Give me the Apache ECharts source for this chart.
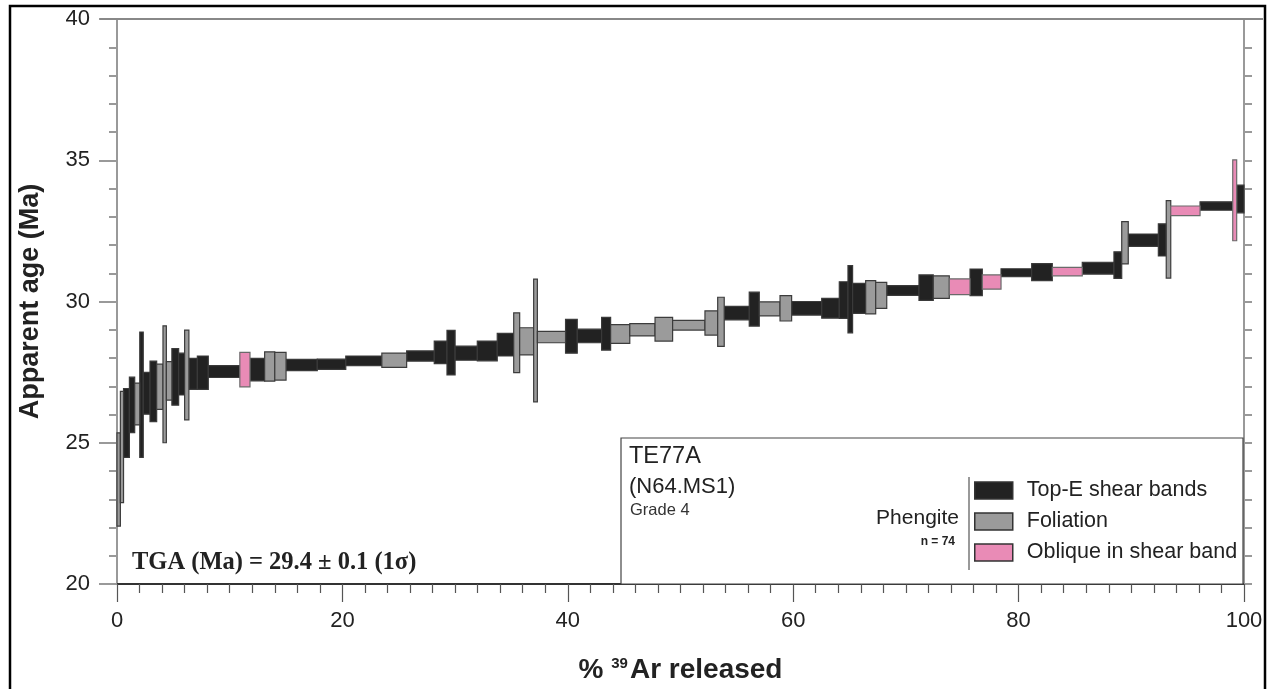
<!DOCTYPE html>
<html>
<head>
<meta charset="utf-8">
<script src="https://cdn.jsdelivr.net/npm/echarts@6/dist/echarts.min.js"></script>
<style>
html,body{margin:0;padding:0;background:#fff;}
#chart{width:1275px;height:689px;}
</style>
</head>
<body>
<div id="chart"></div>
<script>
// Cumulative % 39Ar released at the end of each heating step (start = previous end)
const stepEnd = [0.3, 0.58, 1.1, 1.57, 2.02, 2.33, 2.93, 3.52, 4.08, 4.38,
  4.87, 5.47, 6.0, 6.38, 7.13, 8.1, 10.9, 11.8, 13.1, 14.0,
  15.0, 17.77, 20.3, 23.5, 25.7, 28.15, 29.28, 30.0, 31.97, 33.74,
  35.2, 35.73, 36.97, 37.3, 39.8, 40.84, 43.0, 43.8, 45.5, 47.74,
  49.3, 52.17, 53.3, 53.88, 56.1, 56.99, 58.83, 59.86, 62.53, 64.09,
  64.86, 65.27, 66.43, 67.32, 68.3, 71.16, 72.43, 73.85, 75.69, 76.78,
  78.44, 81.16, 82.99, 85.65, 88.46, 89.15, 89.73, 92.4, 93.1, 93.5,
  96.1, 99.0, 99.35, 100];
// Apparent age (Ma)
const stepAge = [23.7, 24.85, 25.7, 26.34, 26.37, 26.7, 26.75, 26.82, 26.98, 27.07,
  27.19, 27.33, 27.43, 27.4, 27.44, 27.48, 27.52, 27.59, 27.59, 27.7,
  27.71, 27.75, 27.78, 27.9, 27.92, 28.07, 28.2, 28.19, 28.17, 28.25,
  28.47, 28.54, 28.59, 28.62, 28.74, 28.77, 28.78, 28.86, 28.85, 29.0,
  29.02, 29.16, 29.24, 29.28, 29.59, 29.73, 29.74, 29.76, 29.76, 29.76,
  30.05, 30.08, 30.11, 30.15, 30.22, 30.39, 30.49, 30.51, 30.52, 30.68,
  30.69, 31.02, 31.04, 31.06, 31.18, 31.29, 32.08, 32.17, 32.18, 32.2,
  33.21, 33.38, 33.58, 33.63];
// Age error (half-height of step box, Ma)
const stepErr = [1.65, 1.97, 1.22, 0.98, 0.74, 2.22, 0.74, 1.07, 0.8, 2.07,
  0.68, 1.0, 0.74, 1.59, 0.55, 0.59, 0.21, 0.61, 0.4, 0.52,
  0.49, 0.2, 0.18, 0.17, 0.25, 0.18, 0.4, 0.79, 0.25, 0.35,
  0.4, 1.06, 0.48, 2.17, 0.2, 0.6, 0.24, 0.58, 0.33, 0.22,
  0.42, 0.17, 0.43, 0.87, 0.24, 0.6, 0.25, 0.45, 0.24, 0.35,
  0.65, 1.19, 0.53, 0.59, 0.46, 0.17, 0.45, 0.4, 0.28, 0.47,
  0.25, 0.14, 0.3, 0.15, 0.21, 0.47, 0.75, 0.22, 0.57, 1.37,
  0.17, 0.15, 1.43, 0.49];
// Microstructural group: T = Top-E shear bands, F = Foliation, O = Oblique in shear band
const stepGroup = ['F','F','T','T','F','T','T','T','F','F',
  'F','T','T','F','T','T','T','O','T','F',
  'F','T','T','T','F','T','T','T','T','T',
  'T','F','F','F','F','T','T','T','F','F',
  'F','F','F','F','T','T','F','F','T','T',
  'T','T','T','F','F','T','T','F','O','T',
  'O','T','T','O','T','T','F','T','T','F',
  'O','T','O','T'];
const groupNames = {T: 'Top-E shear bands', F: 'Foliation', O: 'Oblique in shear band'};
const groupOrder = ['T', 'F', 'O'];
const xTicks = [0, 20, 40, 60, 80, 100];
const yTicks = [20, 25, 30, 35, 40];

const groupStyle = {
  T: {fill: '#222222', stroke: '#3a3a3a'},
  F: {fill: '#9b9b9b', stroke: '#3c3c3c'},
  O: {fill: '#e98bb6', stroke: '#6a6a6a'}
};
const FONT = '"Liberation Sans", Arial, sans-serif';

function buildData(g) {
  const out = [];
  for (let i = 0; i < stepEnd.length; i++) {
    if (stepGroup[i] !== g) continue;
    const x0 = i === 0 ? 0 : stepEnd[i - 1];
    out.push([x0, stepEnd[i], stepAge[i], stepErr[i]]);
  }
  return out;
}

function makeRender(g) {
  return function (params, api) {
    const x0 = api.value(0), x1 = api.value(1), a = api.value(2), e = api.value(3);
    const p0 = api.coord([x0, a + e]);
    const p1 = api.coord([x1, a - e]);
    return {
      type: 'rect',
      shape: {x: p0[0], y: p0[1], width: p1[0] - p0[0], height: p1[1] - p0[1]},
      style: {fill: groupStyle[g].fill, stroke: groupStyle[g].stroke, lineWidth: 1.2}
    };
  };
}

const series = groupOrder.map(g => ({
  type: 'custom',
  name: groupNames[g],
  renderItem: makeRender(g),
  itemStyle: {color: groupStyle[g].fill, borderColor: groupStyle[g].stroke, borderWidth: 1.5},
  encode: {x: [0, 1], y: 2},
  data: buildData(g),
  z: 5
}));

const chart = echarts.init(document.getElementById('chart'));
chart.setOption({
  backgroundColor: '#ffffff',
  animation: false,
  grid: {left: 117, right: 31, top: 19, bottom: 105},
  xAxis: {
    type: 'value', min: xTicks[0], max: xTicks[xTicks.length - 1], interval: 20,
    name: '% {sup|39}Ar released',
    nameLocation: 'middle', nameGap: 72,
    nameTextStyle: {
      fontFamily: FONT, fontSize: 28, fontWeight: 'bold', color: '#222',
      rich: {sup: {fontFamily: FONT, fontSize: 15, fontWeight: 'bold', color: '#222', verticalAlign: 'top', padding: [0, 2, 12, 0]}}
    },
    axisLine: {lineStyle: {color: '#333', width: 2}},
    axisTick: {length: 18, lineStyle: {color: '#555', width: 1.2}},
    minorTick: {show: true, splitNumber: 10, length: 9, lineStyle: {color: '#555', width: 1.2}},
    splitLine: {show: false},
    axisLabel: {fontFamily: FONT, fontSize: 22, color: '#222', margin: 26}
  },
  yAxis: [{
    type: 'value', min: yTicks[0], max: yTicks[yTicks.length - 1], interval: 5,
    name: 'Apparent age (Ma)',
    nameLocation: 'middle', nameGap: 73,
    nameTextStyle: {fontFamily: FONT, fontSize: 27, fontWeight: 'bold', color: '#222'},
    axisLine: {lineStyle: {color: '#999', width: 2}},
    axisTick: {length: 18, lineStyle: {color: '#999', width: 2}},
    minorTick: {show: true, splitNumber: 5, length: 8, lineStyle: {color: '#999', width: 2}},
    splitLine: {show: false},
    axisLabel: {fontFamily: FONT, fontSize: 22, color: '#222', margin: 27}
  }, {
    type: 'value', position: 'right', min: 20, max: 40, interval: 1,
    axisLine: {show: true, lineStyle: {color: '#999', width: 2}},
    axisTick: {show: true, length: 8, lineStyle: {color: '#999', width: 2}},
    axisLabel: {show: false},
    splitLine: {show: false}
  }],
  legend: {
    orient: 'vertical', left: 974, top: 479.5, padding: 0,
    itemWidth: 38, itemHeight: 17, itemGap: 9,
    icon: 'rect',
    selectedMode: false,
    textStyle: {fontFamily: FONT, fontSize: 21.5, color: '#222', lineHeight: 21, padding: [0, 0, 0, 9]},
    data: groupOrder.map(g => ({
      name: groupNames[g],
      itemStyle: {color: groupStyle[g].fill, borderColor: '#333', borderWidth: 1.5}
    }))
  },
  graphic: [
    {type: 'rect', z: 1, shape: {x: 10, y: 6, width: 1255, height: 720}, style: {fill: 'none', stroke: '#000', lineWidth: 2.5}},
    {type: 'line', z: 2, shape: {x1: 100, y1: 19, x2: 1263, y2: 19}, style: {stroke: '#888', lineWidth: 2}},
    {type: 'rect', z: 3, shape: {x: 621, y: 438, width: 622, height: 146}, style: {fill: '#fff', stroke: '#444', lineWidth: 1.2}},
    {type: 'line', z: 4, shape: {x1: 969, y1: 477, x2: 969, y2: 570}, style: {stroke: '#777', lineWidth: 1.5}},
    {type: 'text', z: 4, left: 629, top: 445, style: {text: 'TE77A', font: '23.5px ' + FONT, fill: '#222'}},
    {type: 'text', z: 4, left: 629, top: 476, style: {text: '(N64.MS1)', font: '22px ' + FONT, fill: '#222'}},
    {type: 'text', z: 4, left: 630, top: 502, style: {text: 'Grade 4', font: '16.5px ' + FONT, fill: '#333'}},
    {type: 'text', z: 4, right: 1275 - 959, top: 508, style: {text: 'Phengite', font: '21px ' + FONT, fill: '#222', align: 'right'}},
    {type: 'text', z: 4, right: 1275 - 955, top: 536, style: {text: 'n = 74', font: 'bold 12px ' + FONT, fill: '#222', align: 'right'}},
    {type: 'text', z: 6, left: 132, top: 550, style: {text: 'TGA (Ma) = 29.4 ± 0.1 (1σ)', font: 'bold 24.5px "Liberation Serif", "Times New Roman", serif', fill: '#222'}}
  ],
  series: series
});
</script>
</body>
</html>
